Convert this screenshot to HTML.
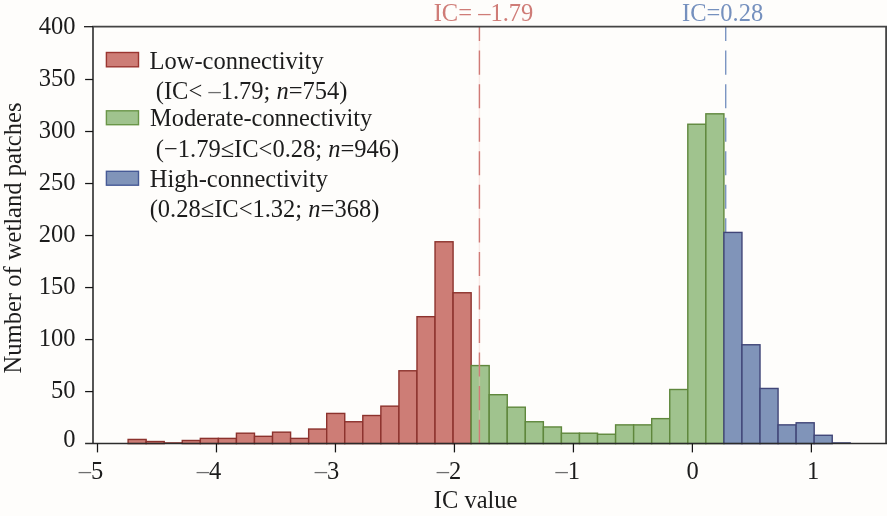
<!DOCTYPE html><html><head><meta charset="utf-8"><title>IC histogram</title>
<style>html,body{margin:0;padding:0;background:#FEFDFB;}svg{display:block;will-change:transform;font-family:"Liberation Serif",serif;}text{font-size:24.5px;fill:#1c1c1c}</style></head><body>
<svg width="887" height="516" viewBox="0 0 887 516">
<rect width="887" height="516" fill="#FEFDFB"/>
<line x1="725.71" y1="26.7" x2="725.71" y2="443.6" stroke="#7C95C2" stroke-width="1.4" stroke-dasharray="24.05 9.5" stroke-dashoffset="9.65"/>
<rect x="128.10" y="439.44" width="18.05" height="4.16" fill="#CD7D76" stroke="#8C322D" stroke-width="1.4"/>
<rect x="146.16" y="441.52" width="18.05" height="2.08" fill="#CD7D76" stroke="#8C322D" stroke-width="1.4"/>
<rect x="164.21" y="442.56" width="18.05" height="1.04" fill="#CD7D76" stroke="#8C322D" stroke-width="0.7"/>
<rect x="182.26" y="440.48" width="18.05" height="3.12" fill="#CD7D76" stroke="#8C322D" stroke-width="1.4"/>
<rect x="200.32" y="438.40" width="18.05" height="5.20" fill="#CD7D76" stroke="#8C322D" stroke-width="1.4"/>
<rect x="218.38" y="438.40" width="18.05" height="5.20" fill="#CD7D76" stroke="#8C322D" stroke-width="1.4"/>
<rect x="236.43" y="433.20" width="18.05" height="10.40" fill="#CD7D76" stroke="#8C322D" stroke-width="1.4"/>
<rect x="254.48" y="436.32" width="18.05" height="7.28" fill="#CD7D76" stroke="#8C322D" stroke-width="1.4"/>
<rect x="272.54" y="432.16" width="18.05" height="11.44" fill="#CD7D76" stroke="#8C322D" stroke-width="1.4"/>
<rect x="290.60" y="438.40" width="18.05" height="5.20" fill="#CD7D76" stroke="#8C322D" stroke-width="1.4"/>
<rect x="308.65" y="429.04" width="18.05" height="14.56" fill="#CD7D76" stroke="#8C322D" stroke-width="1.4"/>
<rect x="326.70" y="413.43" width="18.05" height="30.17" fill="#CD7D76" stroke="#8C322D" stroke-width="1.4"/>
<rect x="344.76" y="421.75" width="18.05" height="21.85" fill="#CD7D76" stroke="#8C322D" stroke-width="1.4"/>
<rect x="362.81" y="415.51" width="18.05" height="28.09" fill="#CD7D76" stroke="#8C322D" stroke-width="1.4"/>
<rect x="380.87" y="406.15" width="18.05" height="37.45" fill="#CD7D76" stroke="#8C322D" stroke-width="1.4"/>
<rect x="398.92" y="370.78" width="18.05" height="72.82" fill="#CD7D76" stroke="#8C322D" stroke-width="1.4"/>
<rect x="416.98" y="316.68" width="18.05" height="126.92" fill="#CD7D76" stroke="#8C322D" stroke-width="1.4"/>
<rect x="435.03" y="241.78" width="18.05" height="201.82" fill="#CD7D76" stroke="#8C322D" stroke-width="1.4"/>
<rect x="453.09" y="292.76" width="18.05" height="150.84" fill="#CD7D76" stroke="#8C322D" stroke-width="1.4"/>
<rect x="471.14" y="365.58" width="18.05" height="78.02" fill="#A0C38E" stroke="#5F873C" stroke-width="1.4"/>
<rect x="489.20" y="394.71" width="18.05" height="48.89" fill="#A0C38E" stroke="#5F873C" stroke-width="1.4"/>
<rect x="507.25" y="407.19" width="18.05" height="36.41" fill="#A0C38E" stroke="#5F873C" stroke-width="1.4"/>
<rect x="525.31" y="421.75" width="18.05" height="21.85" fill="#A0C38E" stroke="#5F873C" stroke-width="1.4"/>
<rect x="543.37" y="426.96" width="18.05" height="16.64" fill="#A0C38E" stroke="#5F873C" stroke-width="1.4"/>
<rect x="561.42" y="433.20" width="18.05" height="10.40" fill="#A0C38E" stroke="#5F873C" stroke-width="1.4"/>
<rect x="579.48" y="433.20" width="18.05" height="10.40" fill="#A0C38E" stroke="#5F873C" stroke-width="1.4"/>
<rect x="597.53" y="434.24" width="18.05" height="9.36" fill="#A0C38E" stroke="#5F873C" stroke-width="1.4"/>
<rect x="615.59" y="424.87" width="18.05" height="18.73" fill="#A0C38E" stroke="#5F873C" stroke-width="1.4"/>
<rect x="633.64" y="424.87" width="18.05" height="18.73" fill="#A0C38E" stroke="#5F873C" stroke-width="1.4"/>
<rect x="651.70" y="418.63" width="18.05" height="24.97" fill="#A0C38E" stroke="#5F873C" stroke-width="1.4"/>
<rect x="669.75" y="389.50" width="18.05" height="54.10" fill="#A0C38E" stroke="#5F873C" stroke-width="1.4"/>
<rect x="687.81" y="124.23" width="18.05" height="319.37" fill="#A0C38E" stroke="#5F873C" stroke-width="1.4"/>
<rect x="705.86" y="113.82" width="18.05" height="329.78" fill="#A0C38E" stroke="#5F873C" stroke-width="1.4"/>
<rect x="723.91" y="232.42" width="18.05" height="211.18" fill="#8094B9" stroke="#414678" stroke-width="1.4"/>
<rect x="741.97" y="344.77" width="18.05" height="98.83" fill="#8094B9" stroke="#414678" stroke-width="1.4"/>
<rect x="760.02" y="388.46" width="18.05" height="55.14" fill="#8094B9" stroke="#414678" stroke-width="1.4"/>
<rect x="778.08" y="424.87" width="18.05" height="18.73" fill="#8094B9" stroke="#414678" stroke-width="1.4"/>
<rect x="796.13" y="422.79" width="18.05" height="20.81" fill="#8094B9" stroke="#414678" stroke-width="1.4"/>
<rect x="814.19" y="435.28" width="18.05" height="8.32" fill="#8094B9" stroke="#414678" stroke-width="1.4"/>
<rect x="832.25" y="442.56" width="18.05" height="1.04" fill="#8094B9" stroke="#414678" stroke-width="0.7"/>
<line x1="479.43" y1="26.7" x2="479.43" y2="443.6" stroke="#F2C4C0" stroke-opacity="0.35" stroke-width="1.4"/>
<line x1="479.43" y1="26.7" x2="479.43" y2="443.6" stroke="#D07A76" stroke-width="1.4" stroke-dasharray="24.05 9.5" stroke-dashoffset="9.65"/>
<polyline points="93.0,443.6 93.0,26.7 886.1,26.7 886.1,443.6" fill="none" stroke="#444444" stroke-width="1.8" stroke-linejoin="miter"/>
<line x1="85.1" y1="443.6" x2="887.0" y2="443.6" stroke="#2c2c2c" stroke-width="1.5"/>
<line x1="85.1" y1="391.59" x2="93.0" y2="391.59" stroke="#151515" stroke-width="1.25"/>
<line x1="85.1" y1="339.57" x2="93.0" y2="339.57" stroke="#151515" stroke-width="1.25"/>
<line x1="85.1" y1="287.56" x2="93.0" y2="287.56" stroke="#151515" stroke-width="1.25"/>
<line x1="85.1" y1="235.54" x2="93.0" y2="235.54" stroke="#151515" stroke-width="1.25"/>
<line x1="85.1" y1="183.53" x2="93.0" y2="183.53" stroke="#151515" stroke-width="1.25"/>
<line x1="85.1" y1="131.51" x2="93.0" y2="131.51" stroke="#151515" stroke-width="1.25"/>
<line x1="85.1" y1="79.50" x2="93.0" y2="79.50" stroke="#151515" stroke-width="1.25"/>
<line x1="84.0" y1="26.70" x2="93.0" y2="26.70" stroke="#151515" stroke-width="1.25"/>
<line x1="97.50" y1="443.6" x2="97.50" y2="452.4" stroke="#151515" stroke-width="1.25"/>
<line x1="216.48" y1="443.6" x2="216.48" y2="452.4" stroke="#151515" stroke-width="1.25"/>
<line x1="335.46" y1="443.6" x2="335.46" y2="452.4" stroke="#151515" stroke-width="1.25"/>
<line x1="454.44" y1="443.6" x2="454.44" y2="452.4" stroke="#151515" stroke-width="1.25"/>
<line x1="573.42" y1="443.6" x2="573.42" y2="452.4" stroke="#151515" stroke-width="1.25"/>
<line x1="692.40" y1="443.6" x2="692.40" y2="452.4" stroke="#151515" stroke-width="1.25"/>
<line x1="811.38" y1="443.6" x2="811.38" y2="452.4" stroke="#151515" stroke-width="1.25"/>
<text transform="translate(75.60,446.65)" text-anchor="end">0</text>
<text transform="translate(75.60,397.74)" text-anchor="end">50</text>
<text transform="translate(75.60,345.72)" text-anchor="end">100</text>
<text transform="translate(75.60,293.71)" text-anchor="end">150</text>
<text transform="translate(75.60,241.69)" text-anchor="end">200</text>
<text transform="translate(75.60,189.68)" text-anchor="end">250</text>
<text transform="translate(75.60,137.66)" text-anchor="end">300</text>
<text transform="translate(75.60,85.65)" text-anchor="end">350</text>
<text transform="translate(75.60,34.00)" text-anchor="end">400</text>
<text transform="translate(103.30,479.30)" text-anchor="end"><tspan style="fill:#6e6e6e">–</tspan>5</text>
<text transform="translate(221.18,479.20)" text-anchor="end"><tspan style="fill:#6e6e6e">–</tspan>4</text>
<text transform="translate(339.26,479.20)" text-anchor="end"><tspan style="fill:#6e6e6e">–</tspan>3</text>
<text transform="translate(461.14,479.20)" text-anchor="end"><tspan style="fill:#6e6e6e">–</tspan>2</text>
<text transform="translate(579.92,479.20)" text-anchor="end"><tspan style="fill:#6e6e6e">–</tspan>1</text>
<text transform="translate(698.70,478.60)" text-anchor="end">0</text>
<text transform="translate(819.28,478.70)" text-anchor="end">1</text>
<text transform="translate(433.80,508.20)">IC value</text>
<text style="font-size:24.58px" transform="translate(20.70,373.50) rotate(-90)">Number of wetland patches</text>
<text transform="translate(433.70,20.80)" style="fill:#CF7C77">IC= –1.79</text>
<text transform="translate(682.00,20.80)" style="fill:#7590BE">IC=0.28</text>
<rect x="106.4" y="52.5" width="32.1" height="14.3" fill="#CD7D76" stroke="#9A3530" stroke-width="1.4"/>
<rect x="106.4" y="110.8" width="32.1" height="13.9" fill="#A0C38E" stroke="#6A9648" stroke-width="1.4"/>
<rect x="106.4" y="171.3" width="32.1" height="13.9" fill="#8094B9" stroke="#465A96" stroke-width="1.4"/>
<text transform="translate(149.50,68.80)">Low-connectivity</text>
<text transform="translate(155.80,98.60)">(IC&lt; <tspan style="fill:#6e6e6e">–</tspan>1.79; <tspan font-style="italic">n</tspan>=754)</text>
<text style="font-size:24.4px" transform="translate(150.00,126.10)">Moderate-connectivity</text>
<text transform="translate(155.80,156.80)">(−1.79≤IC&lt;0.28; <tspan font-style="italic">n</tspan>=946)</text>
<text transform="translate(149.70,186.70)">High-connectivity</text>
<text transform="translate(149.70,217.00)">(0.28≤IC&lt;1.32; <tspan font-style="italic">n</tspan>=368)</text>
</svg></body></html>
